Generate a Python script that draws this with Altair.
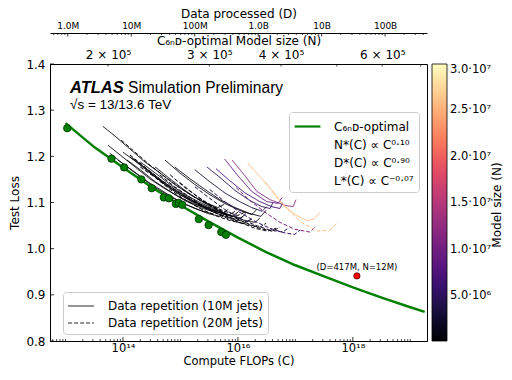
import altair as alt
import pandas as pd

FONT = "DejaVu Sans"
TXT = "Liberation Sans"

# ---------------- data (compute values stored as log10 of FLOPs) ----------------
opt_logc = [13.0, 13.5, 14.0, 14.5, 15.0, 15.5, 16.0, 16.5, 17.0, 17.5, 18.0, 18.5, 19.0, 19.25]
opt_loss = [1.272, 1.220, 1.176, 1.133, 1.094, 1.058, 1.024, 0.992, 0.964, 0.940, 0.916, 0.894, 0.873, 0.863]

dot_logc = [13.03, 13.80, 14.02, 14.32, 14.50, 14.71, 14.80, 14.92, 14.97, 15.03, 15.32, 15.49, 15.71, 15.79]
dot_loss = [1.261, 1.195, 1.176, 1.150, 1.131, 1.111, 1.109, 1.097, 1.099, 1.095, 1.064, 1.051, 1.036, 1.030]

red_logc = [18.07]
red_loss = [0.941]
red_label = ["(D=417M, N=12M)"]

# solid curves: data repetition with 10M jets  (model size N, log10 C, loss)
sA_n, sA_c, sA_l = 2.0e5, [13.65, 13.86, 14.12, 14.38, 14.64, 14.90, 15.17, 15.43, 15.65, 15.76], [1.265, 1.244, 1.216, 1.188, 1.164, 1.139, 1.117, 1.100, 1.089, 1.096]
sP_n, sP_c, sP_l = 2.2e5, [13.77, 14.03, 14.30, 14.56, 14.82, 15.08, 15.34, 15.55, 15.65], [1.207, 1.181, 1.156, 1.132, 1.113, 1.096, 1.083, 1.076, 1.083]
sB_n, sB_c, sB_l = 2.5e5, [13.74, 13.95, 14.21, 14.47, 14.73, 14.99, 15.25, 15.46, 15.57], [1.224, 1.203, 1.177, 1.151, 1.130, 1.111, 1.096, 1.087, 1.094]
sQ_n, sQ_c, sQ_l = 2.8e5, [13.91, 14.17, 14.43, 14.70, 14.96, 15.22, 15.48, 15.69, 15.79], [1.192, 1.169, 1.145, 1.124, 1.104, 1.089, 1.076, 1.070, 1.076]
sC_n, sC_c, sC_l = 3.0e5, [14.00, 14.21, 14.47, 14.73, 14.99, 15.25, 15.51, 15.72, 15.83], [1.209, 1.190, 1.164, 1.139, 1.117, 1.100, 1.085, 1.076, 1.085]
sD_n, sD_c, sD_l = 3.5e5, [14.07, 14.30, 14.56, 14.82, 15.08, 15.34, 15.55, 15.65], [1.192, 1.171, 1.145, 1.124, 1.104, 1.089, 1.081, 1.087]
sE_n, sE_c, sE_l = 4.0e5, [14.12, 14.33, 14.59, 14.85, 15.11, 15.37, 15.62, 15.84, 15.95], [1.199, 1.179, 1.154, 1.130, 1.111, 1.094, 1.081, 1.072, 1.081]
sR_n, sR_c, sR_l = 4.5e5, [14.47, 14.73, 14.99, 15.25, 15.51, 15.77, 15.98, 16.09], [1.164, 1.139, 1.117, 1.098, 1.083, 1.070, 1.061, 1.070]
sF_n, sF_c, sF_l = 5.0e5, [14.17, 14.43, 14.70, 14.96, 15.22, 15.48, 15.72, 15.90, 16.00], [1.196, 1.171, 1.145, 1.124, 1.104, 1.089, 1.076, 1.070, 1.079]
sG_n, sG_c, sG_l = 6.0e5, [14.30, 14.56, 14.82, 15.08, 15.34, 15.60, 15.86, 16.05, 16.14], [1.188, 1.164, 1.139, 1.117, 1.100, 1.085, 1.072, 1.066, 1.076]
sS_n, sS_c, sS_l = 7.0e5, [14.56, 14.82, 15.08, 15.34, 15.60, 15.86, 16.12, 16.30, 16.38], [1.177, 1.151, 1.126, 1.104, 1.087, 1.072, 1.061, 1.057, 1.066]
sH_n, sH_c, sH_l = 8.0e5, [14.73, 14.99, 15.25, 15.51, 15.77, 16.03, 16.24, 16.33], [1.192, 1.164, 1.139, 1.117, 1.098, 1.083, 1.074, 1.085]
sI_n, sI_c, sI_l = 1.2e6, [14.90, 15.17, 15.43, 15.69, 15.95, 16.21, 16.40, 16.49], [1.177, 1.151, 1.128, 1.106, 1.089, 1.076, 1.070, 1.083]
sJ_n, sJ_c, sJ_l = 3.0e6, [15.25, 15.51, 15.77, 16.03, 16.24, 16.42, 16.50], [1.171, 1.145, 1.121, 1.102, 1.089, 1.081, 1.091]
sK_n, sK_c, sK_l = 4.5e6, [15.46, 15.69, 15.95, 16.21, 16.42, 16.56, 16.61], [1.177, 1.154, 1.126, 1.104, 1.091, 1.087, 1.100]
sL_n, sL_c, sL_l = 6.5e6, [15.62, 15.86, 16.12, 16.38, 16.59, 16.73, 16.78], [1.173, 1.147, 1.121, 1.102, 1.091, 1.087, 1.100]
sM_n, sM_c, sM_l = 9.0e6, [15.77, 16.00, 16.24, 16.50, 16.70, 16.77], [1.194, 1.158, 1.124, 1.102, 1.098, 1.111]
sN_n, sN_c, sN_l = 1.15e7, [15.90, 16.12, 16.33, 16.56, 16.82, 16.96, 17.01], [1.192, 1.158, 1.124, 1.106, 1.094, 1.091, 1.106]
sO_n, sO_c, sO_l = 2.6e7, [16.17, 16.38, 16.61, 16.78, 16.99, 17.20, 17.32, 17.43], [1.186, 1.156, 1.124, 1.096, 1.074, 1.061, 1.064, 1.079]

# dashed curves: data repetition with 20M jets
da_n, da_c, da_l = 2.5e5, [13.97, 14.21, 14.47, 14.73, 14.99, 15.25, 15.51, 15.77, 16.00, 16.12], [1.235, 1.209, 1.181, 1.156, 1.132, 1.111, 1.094, 1.081, 1.072, 1.079]
di_n, di_c, di_l = 3.0e5, [14.12, 14.38, 14.64, 14.90, 15.17, 15.43, 15.69, 15.95, 16.12, 16.24], [1.203, 1.177, 1.151, 1.128, 1.106, 1.089, 1.074, 1.064, 1.057, 1.064]
db_n, db_c, db_l = 3.5e5, [14.30, 14.56, 14.82, 15.08, 15.34, 15.60, 15.86, 16.07, 16.21], [1.177, 1.154, 1.128, 1.106, 1.087, 1.072, 1.061, 1.055, 1.061]
dc_n, dc_c, dc_l = 5.0e5, [14.64, 14.90, 15.17, 15.43, 15.69, 15.95, 16.21, 16.38, 16.49], [1.160, 1.134, 1.111, 1.089, 1.072, 1.059, 1.051, 1.046, 1.055]
dj_n, dj_c, dj_l = 6.5e5, [14.82, 15.08, 15.34, 15.60, 15.86, 16.12, 16.38, 16.59, 16.73], [1.160, 1.132, 1.109, 1.089, 1.072, 1.057, 1.044, 1.038, 1.046]
dd_n, dd_c, dd_l = 8.0e5, [14.99, 15.25, 15.51, 15.77, 16.03, 16.30, 16.52, 16.66], [1.143, 1.117, 1.094, 1.074, 1.057, 1.044, 1.038, 1.044]
de_n, de_c, de_l = 3.5e6, [15.25, 15.51, 15.77, 16.03, 16.30, 16.56, 16.78, 16.87], [1.134, 1.109, 1.085, 1.066, 1.051, 1.040, 1.036, 1.044]
df_n, df_c, df_l = 5.5e6, [15.51, 15.77, 16.03, 16.30, 16.56, 16.82, 16.99, 17.08], [1.128, 1.102, 1.079, 1.059, 1.044, 1.034, 1.031, 1.040]
dg_n, dg_c, dg_l = 1.1e7, [15.97, 16.21, 16.47, 16.73, 16.99, 17.25, 17.36], [1.132, 1.104, 1.079, 1.057, 1.042, 1.036, 1.049]
dh_n, dh_c, dh_l = 2.6e7, [16.47, 16.64, 16.78, 16.99, 17.11, 17.39, 17.60, 17.74], [1.145, 1.117, 1.096, 1.070, 1.057, 1.038, 1.040, 1.057]

rep_labels = ["Data repetition (10M jets)", "Data repetition (20M jets)"]
opt_labels = ["C₆ₙᴅ-optimal", "N*(C) ∝ C⁰·¹⁰", "D*(C) ∝ C⁰·⁹⁰", "L*(C) ∝ C⁻⁰·⁰⁷"]
cbar_ticks = [5e6, 1e7, 1.5e7, 2e7, 2.5e7, 3e7]
cbar_title = "Model size (N)"
title_atlas = "ATLAS"
title_sim = "Simulation Preliminary"
title_energy = "√s = 13/13.6 TeV"
y_ticks = [0.8, 0.9, 1.0, 1.1, 1.2, 1.3, 1.4]
n_tick_vals = [2e5, 3e5, 4e5, 5e5, 6e5, 7e5]

# ---------------- tables ----------------
solid = [("sA", sA_n, sA_c, sA_l), ("sP", sP_n, sP_c, sP_l), ("sB", sB_n, sB_c, sB_l),
         ("sQ", sQ_n, sQ_c, sQ_l), ("sC", sC_n, sC_c, sC_l), ("sD", sD_n, sD_c, sD_l),
         ("sE", sE_n, sE_c, sE_l), ("sR", sR_n, sR_c, sR_l), ("sF", sF_n, sF_c, sF_l),
         ("sG", sG_n, sG_c, sG_l), ("sS", sS_n, sS_c, sS_l), ("sH", sH_n, sH_c, sH_l),
         ("sI", sI_n, sI_c, sI_l), ("sJ", sJ_n, sJ_c, sJ_l), ("sK", sK_n, sK_c, sK_l),
         ("sL", sL_n, sL_c, sL_l), ("sM", sM_n, sM_c, sM_l), ("sN", sN_n, sN_c, sN_l),
         ("sO", sO_n, sO_c, sO_l)]
dashed = [("da", da_n, da_c, da_l), ("di", di_n, di_c, di_l), ("db", db_n, db_c, db_l),
          ("dc", dc_n, dc_c, dc_l), ("dj", dj_n, dj_c, dj_l), ("dd", dd_n, dd_c, dd_l),
          ("de", de_n, de_c, de_l), ("df", df_n, df_c, df_l), ("dg", dg_n, dg_c, dg_l),
          ("dh", dh_n, dh_c, dh_l)]

rows = []
for rep, group in ((rep_labels[0], solid), (rep_labels[1], dashed)):
    for name, n, cs, ls in group:
        for c, l in zip(cs, ls):
            rows.append({"curve": name, "N": n, "rep": rep, "C": 10 ** c, "loss": l})
curves_df = pd.DataFrame(rows)

opt_df = pd.DataFrame({"C": [10 ** c for c in opt_logc], "loss": opt_loss, "series": opt_labels[0]})
dot_df = pd.DataFrame({"C": [10 ** c for c in dot_logc], "loss": dot_loss})
red_df = pd.DataFrame({"C": [10 ** c for c in red_logc], "loss": red_loss, "label": red_label})


def log_ticks(lo, hi, dom):
    out = []
    for k in range(lo, hi + 1):
        for m in range(1, 10):
            v = float(f"{m}e{k}")
            if dom[0] <= v <= dom[1]:
                out.append(v)
    return out


def label_expr(mapping):
    return " : ".join(f"datum.value == {v} ? '{s}'" for v, s in mapping.items()) + " : ''"


# ---------------- geometry ----------------
W, H = 377, 277
xdom = [10 ** 12.73, 10 ** 19.29]
xscale = alt.Scale(type="log", domain=xdom, nice=False)
yscale = alt.Scale(domain=[0.8, 1.4], nice=False, zero=False)

c_major = {10 ** 14: "10¹⁴", 10 ** 16: "10¹⁶", 10 ** 18: "10¹⁸"}
c_all = log_ticks(12, 19, xdom)
c_minor = [v for v in c_all if v not in c_major]
X = alt.X("C:Q", scale=xscale, axis=alt.Axis(
    values=c_all, labelExpr=label_expr(c_major), ticks=False,
    title="Compute FLOPs (C)", labelFontSize=11.5, titleFontSize=11.5,
    labelPadding=1, titlePadding=2, labelOverlap=False, labelFlush=False, grid=False))
Y = alt.Y("loss:Q", scale=yscale, axis=alt.Axis(
    values=y_ticks, format=".1f", title="Test Loss", ticks=False,
    labelFontSize=12, titleFontSize=12, labelPadding=5, titlePadding=4, grid=False))

lines = alt.Chart(curves_df).mark_line(strokeWidth=1.0, clip=True).encode(
    x=X, y=Y,
    color=alt.Color("N:Q", scale=alt.Scale(scheme="magma", domain=[2e5, 3e7]),
                    legend=alt.Legend(type="gradient", orient="none", legendX=382, legendY=0,
                                      direction="vertical", gradientLength=H, gradientThickness=15,
                                      gradientStrokeColor="black", gradientStrokeWidth=0.8,
                                      values=cbar_ticks,
                                      labelExpr="datum.value < 9000000 ? format(datum.value/1000000, '.1f') + '·10⁶' : format(datum.value/10000000, '.1f') + '·10⁷'",
                                      labelFontSize=11.5, labelOffset=3, labelOverlap=False,
                                      title=None, padding=0)),
    strokeDash=alt.StrokeDash("rep:N", scale=alt.Scale(domain=rep_labels, range=[[1, 0], [4, 2]]),
                              legend=alt.Legend(orient="none", legendX=13, legendY=228, title=None,
                                                symbolType="M-1.6,0H1.6", symbolStrokeColor="#707070",
                                                symbolStrokeWidth=1.5, symbolSize=260, symbolOffset=4,
                                                labelFontSize=12, labelLimit=300, labelOffset=18,
                                                rowPadding=2,
                                                fillColor="white", strokeColor="#cccccc",
                                                cornerRadius=3, padding=5)),
    detail="curve:N",
)

green = alt.Chart(opt_df).mark_line(strokeWidth=2.5, clip=True).encode(
    x=X, y=Y,
    stroke=alt.Stroke("series:N", scale=alt.Scale(domain=opt_labels, range=["#008000", "transparent", "transparent", "transparent"]),
                      legend=alt.Legend(orient="none", legendX=239, legendY=48, title=None,
                                        symbolType="M-1.6,0H1.6", symbolStrokeWidth=2.2,
                                        symbolSize=260, symbolOffset=4,
                                        labelFontSize=12, labelLimit=300, labelOffset=17, rowPadding=2,
                                        fillColor="white", strokeColor="#cccccc",
                                        cornerRadius=3, padding=5)),
)

dots = alt.Chart(dot_df).mark_circle(size=55, color="#008000", stroke="#023302", strokeWidth=0.8, opacity=1).encode(x=X, y=Y)
red = alt.Chart(red_df).mark_circle(size=40, color="#ff0000", stroke="#550000", strokeWidth=0.8, opacity=1).encode(x=X, y=Y)
red_txt = alt.Chart(red_df).mark_text(font=FONT, fontSize=8.5, dy=-9, color="black").encode(x=X, y=Y, text="label:N")

# inward tick marks (ATLAS style)
xmaj = alt.Chart(pd.DataFrame({"C": list(c_major)})).mark_rule(color="black", strokeWidth=0.8).encode(
    x=X, y=alt.value(H), y2=alt.value(H - 4))
xmin = alt.Chart(pd.DataFrame({"C": c_minor})).mark_rule(color="black", strokeWidth=0.7).encode(
    x=X, y=alt.value(H), y2=alt.value(H - 2))
ytk = alt.Chart(pd.DataFrame({"loss": y_ticks})).mark_rule(color="black", strokeWidth=0.8).encode(
    y=Y, x=alt.value(0), x2=alt.value(4))

t1 = alt.Chart(pd.DataFrame({"t": [title_atlas]})).mark_text(
    font=TXT, fontSize=16.5, fontWeight="bold", fontStyle="italic", align="left", baseline="alphabetic", color="black"
).encode(text="t:N", x=alt.value(20), y=alt.value(28.5))
t2 = alt.Chart(pd.DataFrame({"t": [title_sim]})).mark_text(
    font=TXT, fontSize=15.6, align="left", baseline="alphabetic", color="black"
).encode(text="t:N", x=alt.value(78), y=alt.value(28.5))
t3 = alt.Chart(pd.DataFrame({"t": [title_energy]})).mark_text(
    font=TXT, fontSize=13.5, align="left", baseline="alphabetic", color="black"
).encode(text="t:N", x=alt.value(20), y=alt.value(44.5))
t4 = alt.Chart(pd.DataFrame({"t": [cbar_title]})).mark_text(
    font=FONT, fontSize=12, angle=270, align="center", baseline="middle", color="black"
).encode(text="t:N", x=alt.value(447), y=alt.value(141))

main = alt.layer(lines, green, dots, red, red_txt, xmaj, xmin, ytk, t1, t2, t3, t4)

# secondary top axis: data processed D
d_dom = [10 ** 5.72, 10 ** 11.66]
d_major = {10 ** 6: "1.0M", 10 ** 7: "10M", 10 ** 8: "100M", 10 ** 9: "1.0B", 10 ** 10: "10B", 10 ** 11: "100B"}
d_all = log_ticks(5, 11, d_dom)
DX = alt.X("D:Q", scale=alt.Scale(type="log", domain=d_dom, nice=False), axis=alt.Axis(
    orient="top", offset=31, values=d_all, labelExpr=label_expr(d_major), ticks=False,
    title="Data processed (D)", labelFontSize=9, titleFontSize=12, labelPadding=3, titlePadding=1,
    labelOverlap=False, labelFlush=False, grid=False))
d_maj_rules = alt.Chart(pd.DataFrame({"D": list(d_major)})).mark_rule(color="black", strokeWidth=0.8).encode(
    x=DX, y=alt.value(-31), y2=alt.value(-27.5))
d_min_rules = alt.Chart(pd.DataFrame({"D": [v for v in d_all if v not in d_major]})).mark_rule(
    color="black", strokeWidth=0.7).encode(x=DX, y=alt.value(-31), y2=alt.value(-29))
d_layer = alt.layer(d_maj_rules, d_min_rules)

# secondary top axis: compute-optimal model size N
n_dom = [10 ** 5.20, 10 ** 5.856]
n_major = {200000: "2 × 10⁵", 300000: "3 × 10⁵", 400000: "4 × 10⁵", 600000: "6 × 10⁵"}
n_layer = alt.Chart(pd.DataFrame({"Nopt": n_tick_vals})).mark_rule(color="black", strokeWidth=0.7).encode(
    x=alt.X("Nopt:Q", scale=alt.Scale(type="log", domain=n_dom, nice=False), axis=alt.Axis(
        orient="top", values=n_tick_vals, labelExpr=label_expr(n_major), ticks=False,
        title="C₆ₙᴅ-optimal Model size (N)", labelFontSize=12, titleFontSize=12,
        labelPadding=3, titlePadding=1, labelOverlap=False, labelFlush=False, grid=False, domain=False)),
    y=alt.value(0), y2=alt.value(2.5))

chart = alt.layer(main, d_layer, n_layer).resolve_scale(x="independent").properties(
    width=W, height=H,
    padding={"left": 42, "top": 56, "right": 77, "bottom": 30},
    autosize=alt.AutoSizeParams(type="none"),
).configure_view(stroke="black", strokeWidth=1).configure_axis(
    labelFont=FONT, titleFont=FONT, labelColor="black", titleColor="black",
    tickColor="black", domainColor="black", titleFontWeight="normal", domainWidth=1
).configure_legend(labelFont=FONT, titleFont=FONT, labelColor="black", titleColor="black")

chart.save("out.html", embed_options={"renderer": "svg", "actions": False})
